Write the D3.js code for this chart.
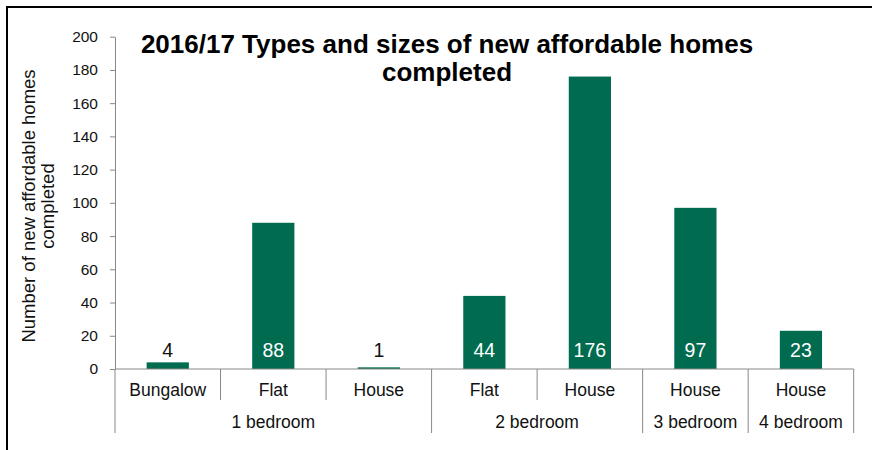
<!DOCTYPE html>
<html>
<head>
<meta charset="utf-8">
<script src="https://cdn.jsdelivr.net/npm/d3@7"></script>
<style>
  html, body { margin: 0; padding: 0; background: #fff; }
  svg { display: block; font-family: "Liberation Sans", Arial, sans-serif; }
</style>
</head>
<body>
<svg id="chart" width="872" height="450"></svg>
<script>
// Completed affordable homes by dwelling type, grouped by bedroom count
const categories = ["Bungalow", "Flat", "House", "Flat", "House", "House", "House"];
const groups = ["1 bedroom", "1 bedroom", "1 bedroom", "2 bedroom", "2 bedroom", "3 bedroom", "4 bedroom"];
const values = [4, 88, 1, 44, 176, 97, 23];
const yTicks = [0, 20, 40, 60, 80, 100, 120, 140, 160, 180, 200];

const titleLines = ["2016/17 Types and sizes of new affordable homes", "completed"];
const yTitleLines = ["Number of new affordable homes", "completed"];

const svg = d3.select("#chart");
const axisColor = "#888888";
const barColor = "#006b4f";

const plotLeft = 115, plotRight = 853.7, plotTop = 36.7, plotBottom = 369;

// Outer frame (only top and left edges fall inside the view)
svg.append("rect")
  .attr("x", 7).attr("y", 7)
  .attr("width", 900).attr("height", 500)
  .attr("fill", "none").attr("stroke", "#000").attr("stroke-width", 2);

const x = d3.scaleBand()
  .domain(d3.range(values.length))
  .range([plotLeft, plotRight])
  .padding(0);

const y = d3.scaleLinear().domain([0, 200]).range([plotBottom, plotTop]);

const barW = x.bandwidth() * 0.4;

// Bars
svg.append("g").selectAll("rect")
  .data(values)
  .join("rect")
  .attr("x", (d, i) => x(i) + (x.bandwidth() - barW) / 2)
  .attr("width", barW)
  .attr("y", d => y(d))
  .attr("height", d => y(0) - y(d))
  .attr("fill", barColor);

// Y axis
const yAxis = svg.append("g")
  .attr("transform", `translate(${plotLeft},0)`)
  .call(d3.axisLeft(y).tickValues(yTicks).tickSize(5).tickSizeOuter(0).tickPadding(12));
yAxis.select(".domain").attr("stroke", axisColor);
yAxis.selectAll(".tick line").attr("stroke", axisColor);
yAxis.selectAll(".tick text")
  .attr("fill", "#111")
  .style("font-size", "15.5px")
  .style("font-family", "'Liberation Sans', Arial, sans-serif");

// X axis baseline
svg.append("line")
  .attr("x1", plotLeft).attr("x2", plotRight)
  .attr("y1", y(0)).attr("y2", y(0))
  .attr("stroke", axisColor);

// Dividers between categories; longer where the bedroom group changes
const bounds = d3.range(values.length + 1);
svg.append("g").selectAll("line")
  .data(bounds)
  .join("line")
  .attr("x1", i => i < values.length ? x(i) : plotRight)
  .attr("x2", i => i < values.length ? x(i) : plotRight)
  .attr("y1", y(0))
  .attr("y2", i => (i === 0 || i === values.length || groups[i - 1] !== groups[i]) ? 433 : 400)
  .attr("stroke", axisColor);

// Category labels
svg.append("g").selectAll("text")
  .data(categories)
  .join("text")
  .attr("x", (d, i) => x(i) + x.bandwidth() / 2)
  .attr("y", 396)
  .attr("text-anchor", "middle")
  .attr("fill", "#111")
  .style("font-size", "17.5px")
  .text(d => d);

// Group labels centred under each bedroom group
const groupSpans = [];
groups.forEach((g, i) => {
  const last = groupSpans[groupSpans.length - 1];
  if (last && last.name === g) last.end = i;
  else groupSpans.push({ name: g, start: i, end: i });
});
svg.append("g").selectAll("text")
  .data(groupSpans)
  .join("text")
  .attr("x", d => (x(d.start) + x(d.end) + x.bandwidth()) / 2)
  .attr("y", 428)
  .attr("text-anchor", "middle")
  .attr("fill", "#111")
  .style("font-size", "17.5px")
  .text(d => d.name);

// Value labels at the inside base of each bar
svg.append("g").selectAll("text")
  .data(values)
  .join("text")
  .attr("x", (d, i) => x(i) + x.bandwidth() / 2)
  .attr("y", y(0) - 12)
  .attr("text-anchor", "middle")
  .attr("fill", d => (y(0) - y(d)) > 20 ? "#ffffff" : "#111")
  .style("font-size", "19.5px")
  .text(d => d);

// Chart title
svg.append("text")
  .attr("x", 447).attr("y", 53)
  .attr("text-anchor", "middle")
  .style("font-size", "26px").style("font-weight", "bold")
  .attr("fill", "#000")
  .selectAll("tspan")
  .data(titleLines)
  .join("tspan")
  .attr("x", 447)
  .attr("dy", (d, i) => i === 0 ? 0 : 28)
  .text(d => d);

// Y axis title
const yt = svg.append("text")
  .attr("transform", "translate(35,206) rotate(-90)")
  .attr("text-anchor", "middle")
  .attr("fill", "#111")
  .style("font-size", "18.5px");
yt.selectAll("tspan")
  .data(yTitleLines)
  .join("tspan")
  .attr("x", 0)
  .attr("dy", (d, i) => i === 0 ? 0 : 19)
  .text(d => d);
</script>
</body>
</html>
